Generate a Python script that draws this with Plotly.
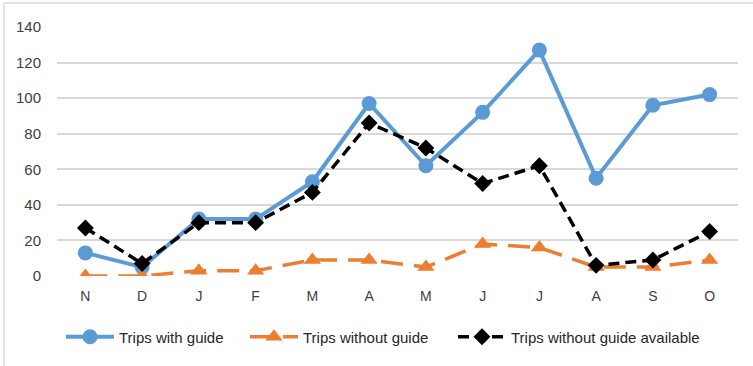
import plotly.graph_objects as go

months = ["N", "D", "J", "F", "M", "A", "M", "J", "J", "A", "S", "O"]
with_guide = [13, 5, 32, 32, 53, 97, 62, 92, 127, 55, 96, 102]
without_guide = [0, 0, 3, 3, 9, 9, 5, 18, 16, 5, 5, 9]
without_available = [27, 7, 30, 30, 47, 86, 72, 52, 62, 6, 9, 25]
y_ticks = [0, 20, 40, 60, 80, 100, 120, 140]

x = list(range(len(months)))
FONT = "Liberation Sans, Arial, sans-serif"

fig = go.Figure()
fig.add_trace(go.Scatter(
    x=x, y=with_guide, name="Trips with guide", mode="lines+markers",
    line=dict(color="#5B9BD5", width=4),
    marker=dict(symbol="circle", size=15, color="#5B9BD5"),
    legend="legend",
))
fig.add_trace(go.Scatter(
    x=x, y=without_guide, name="Trips without guide", mode="lines+markers",
    line=dict(color="#ED7D31", width=3.5, dash="22px,11px"),
    marker=dict(symbol="triangle-up", size=15, color="#ED7D31"),
    legend="legend2",
))
fig.add_trace(go.Scatter(
    x=x, y=without_available, name="Trips without guide available", mode="lines+markers",
    line=dict(color="#000000", width=3.5, dash="11px,6px"),
    marker=dict(symbol="diamond", size=13, color="#000000"),
    legend="legend3",
))

L, R, T, B = 57, 15, 27, 90
W, H = 753, 366
pw, ph = W - L - R, H - T - B

def px(xp):
    return (xp - L) / pw

def py(yp):
    return (H - B - yp) / ph

# light frame visible on top and left edges only
fig.add_shape(type="line", xref="paper", yref="paper",
              x0=px(4), x1=px(760), y0=py(3), y1=py(3),
              line=dict(color="#D9D9D9", width=1.5), layer="below")
fig.add_shape(type="line", xref="paper", yref="paper",
              x0=px(4), x1=px(4), y0=py(3), y1=py(370),
              line=dict(color="#D9D9D9", width=1.5), layer="below")

def leg(xpix, iw):
    return dict(orientation="h", x=px(xpix), xanchor="left", y=py(337), yanchor="middle",
                font=dict(size=15, color="#262626"), itemwidth=iw,
                bgcolor="rgba(0,0,0,0)")

fig.update_layout(
    width=W, height=H,
    margin=dict(l=L, r=R, t=T, b=B),
    paper_bgcolor="white", plot_bgcolor="white",
    font=dict(family=FONT, color="#404040", size=14),
    showlegend=True,
    legend=leg(61, 48),
    legend2=leg(245, 48),
    legend3=leg(453, 48),
    xaxis=dict(tickmode="array", tickvals=x, ticktext=months,
               range=[-0.5, len(months) - 0.5], showgrid=False, zeroline=False,
               showline=False, ticks="", ticklabelstandoff=10,
               tickfont=dict(size=14, color="#404040")),
    yaxis=dict(tickmode="array", tickvals=y_ticks, range=[0, 140],
               showgrid=True, gridcolor="#D9D9D9", gridwidth=1.5, zeroline=False,
               showline=False, ticks="", ticklabelstandoff=15,
               tickfont=dict(size=15, color="#404040")),
)

fig.write_html("out.html")
